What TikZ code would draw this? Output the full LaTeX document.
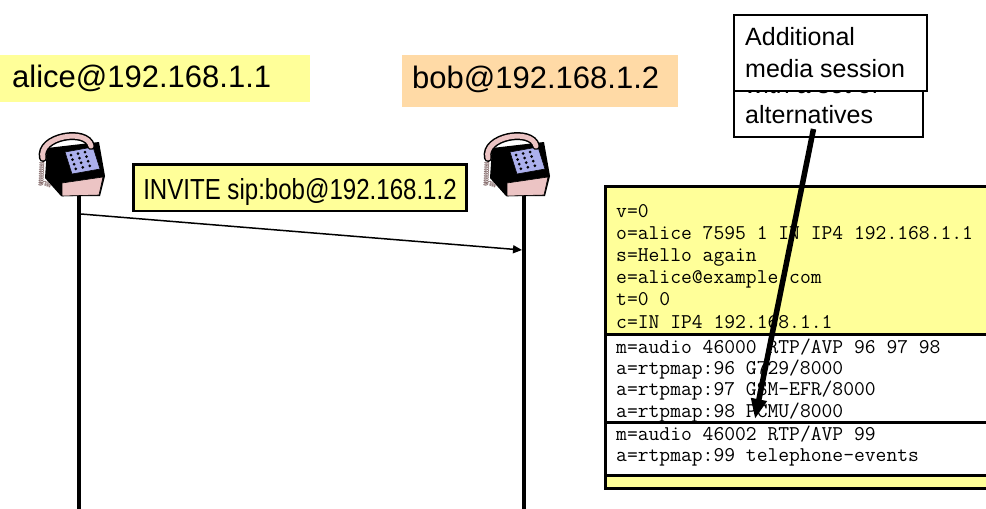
\documentclass[tikz,border=0pt]{standalone}
\usepackage{fontspec}
\setmainfont{Liberation Sans}
\newfontfamily\narrowsans[FakeStretch=0.83]{Liberation Sans}
\usetikzlibrary{arrows.meta,decorations.pathmorphing}

\definecolor{noteyellow}{RGB}{255,255,153}
\definecolor{bobpeach}{RGB}{255,218,166}
\definecolor{phonepink}{RGB}{236,196,196}
\definecolor{keyblue}{RGB}{172,176,236}

\tikzset{
  phone/.pic={
    % coiled cord
    \draw[phonepink!60!black,line width=0.6pt,decorate,decoration={coil,aspect=0.5,segment length=2.2pt,amplitude=2.2pt}]
      (-33,-6) -- (-34,16) -- (-22,20);
    % base
    \fill[black] (-28,-18) -- (24,-24) -- (30,10) -- (25,30) -- (-14,30) -- (-30,12) -- cycle;
    \filldraw[fill=phonepink,draw=black,line width=0.6pt] (-13,17) -- (28,11) -- (24,29) -- (-13,30) -- cycle;
    % dial pad
    \filldraw[fill=keyblue,draw=black,line width=0.6pt] (-10,-14) -- (18,-19) -- (25,3) -- (-3,8) -- cycle;
    \foreach \r in {0,...,3}
      \foreach \c in {0,1,2}
        \fill[black] ({-4+7*\c+1.6*\r},{-11-1.5*\c+4.6*\r}) circle (1.5pt);
    % handset
    \draw[line width=8pt,line cap=round] (-32,-8) .. controls (-37,-30) and (12,-38) .. (16,-20);
    \draw[phonepink,line width=5pt,line cap=round] (-32,-8) .. controls (-37,-30) and (12,-38) .. (16,-20);
  }
}

\begin{document}
\begin{tikzpicture}[x=1pt,y=-1pt,
  host/.style={inner sep=0pt,anchor=north west,align=left,font=\fontsize{31}{36}\selectfont},
  telnode/.style={minimum width=60pt,minimum height=60pt,inner sep=0pt},
  lifeline/.style={line width=4.5pt},
  msgbox/.style={draw,line width=2.5pt,fill=noteyellow,inner xsep=10pt,inner ysep=0pt,text height=35pt,text depth=11.7pt,font=\narrowsans\fontsize{29}{34}\selectfont},
  notebox/.style={draw,line width=2pt,fill=white,anchor=north west,inner sep=0pt},
  notetext/.style={anchor=base west,inner sep=0pt,font=\fontsize{25}{30}\selectfont},
  sdpbox/.style={draw,line width=2.5pt,anchor=north west,inner sep=0pt,minimum width=400pt},
  sdpline/.style={anchor=base west,inner sep=0pt,font=\ttfamily\fontsize{21}{22}\selectfont}]
\useasboundingbox (0,0) rectangle (986,509);

% the two user agents
\node (alice) [host,fill=noteyellow,text width=286pt,inner xsep=12pt,text height=32.7pt,text depth=14.3pt] at (0,55) {alice@192.168.1.1};
\node (bob) [host,fill=bobpeach,text width=256pt,inner xsep=10pt,text height=33pt,text depth=19pt] at (402,55) {bob@192.168.1.2};

\node (alicetel) [telnode] at (79,166) {};
\node (bobtel) [telnode] at (524,166) {};
\pic at ([xshift=-4pt]alicetel.center) {phone};
\pic at ([xshift=-4pt]bobtel.center) {phone};

\coordinate (aliceend) at (79,515);
\coordinate (bobend) at (524,515);
\draw[lifeline] (alicetel.south) -- (aliceend);
\draw[lifeline] (bobtel.south) -- (bobend);

% request
\coordinate (invfrom) at (81,214);
\coordinate (invto) at (522,250);
\draw[line width=1.5pt,-{Triangle[length=9pt,width=8pt]}] (invfrom) -- (invto);
\node (invite) [msgbox,anchor=north west] at (132,163) {INVITE sip:bob@192.168.1.2};

% session description
\node (sdp) [sdpbox,fill=noteyellow,line width=3pt,minimum height=302.5pt] at (604,184.5) {};
\foreach \txt [count=\i from 0] in {v=0, o=alice 7595 1 IN IP4 192.168.1.1, s=Hello again, e=alice@example.com, t=0 0, c=IN IP4 192.168.1.1}
  \node (sess\i) [sdpline] at (616,{217+22.2*\i}) {\txt};

\node (audio) [sdpbox,fill=white,minimum height=88pt] at (604,333) {};
\foreach \txt [count=\i from 0] in {m=audio 46000 RTP/AVP 96 97 98, a=rtpmap:96 G729/8000, a=rtpmap:97 GSM-EFR/8000, a=rtpmap:98 PCMU/8000}
  \node (audio\i) [sdpline] at (616,{353+21.4*\i}) {\txt};

\node (events) [sdpbox,fill=white,minimum height=53pt] at (604,421) {};
\foreach \txt [count=\i from 0] in {m=audio 46002 RTP/AVP 99, a=rtpmap:99 telephone-events}
  \node (events\i) [sdpline] at (616,{440+21.7*\i}) {\txt};

% callout
\node (alts) [notebox,minimum width=189pt,minimum height=76pt] at (733,60) {};
\node (altsa) [notetext] at (745,93) {with a set of};
\node (altsb) [notetext] at (745,123) {alternatives};
\node (callout) [notebox,minimum width=193pt,minimum height=76pt] at (733,14) {};
\node (calla) [notetext] at (745,45) {Additional};
\node (callb) [notetext] at (745,77) {media session};

\coordinate (choice) at (755,419);
\draw[line width=5.5pt,-{Triangle[length=20pt,width=15pt]}] ([xshift=-15pt,yshift=9pt]alts.south) -- (choice);
\end{tikzpicture}
\end{document}
